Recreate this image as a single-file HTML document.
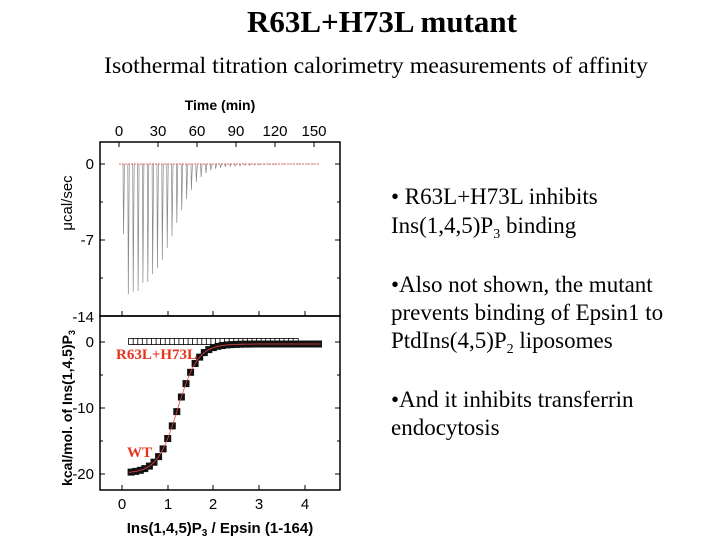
<!DOCTYPE html>
<html><head><meta charset="utf-8"><style>
body{margin:0;background:#fff;width:720px;height:540px;overflow:hidden}
svg{display:block}
</style></head><body>
<svg id="s" width="720" height="540" xmlns="http://www.w3.org/2000/svg" font-family="Liberation Sans, sans-serif">
<text x="382" y="32" text-anchor="middle" font-family="Liberation Serif, serif" font-weight="bold" font-size="31">R63L+H73L mutant</text>
<text x="376" y="73" text-anchor="middle" font-family="Liberation Serif, serif" font-size="23" textLength="544" lengthAdjust="spacingAndGlyphs">Isothermal titration calorimetry measurements of affinity</text>
<g font-family="Liberation Serif, serif" font-size="23">
<text x="391" y="204">• R63L+H73L inhibits</text>
<text x="391" y="233">Ins(1,4,5)P<tspan font-size="14" dy="5">3</tspan><tspan dy="-5"> binding</tspan></text>
<text x="391" y="292">•Also not shown, the mutant</text>
<text x="391" y="320">prevents binding of Epsin1 to</text>
<text x="391" y="348">PtdIns(4,5)P<tspan font-size="14" dy="5">2</tspan><tspan dy="-5"> liposomes</tspan></text>
<text x="391" y="407">•And it inhibits transferrin</text>
<text x="391" y="435">endocytosis</text>
</g>
<text x="220" y="110" text-anchor="middle" font-weight="bold" font-size="14">Time (min)</text>
<g font-size="15" text-anchor="middle">
<text x="119" y="136">0</text><text x="158" y="136">30</text><text x="197" y="136">60</text><text x="236" y="136">90</text><text x="275" y="136">120</text><text x="314" y="136">150</text>
</g>
<g font-size="15" text-anchor="end">
<text x="94" y="169">0</text><text x="94" y="245">-7</text><text x="94" y="322">-14</text>
<text x="94" y="347">0</text><text x="94" y="413">-10</text><text x="94" y="479">-20</text>
</g>
<text transform="translate(72,203) rotate(-90)" text-anchor="middle" font-size="15">μcal/sec</text>
<text transform="translate(72,408) rotate(-90)" text-anchor="middle" font-size="14" font-weight="bold">kcal/mol. of Ins(1,4,5)P<tspan font-size="9" dy="3">3</tspan></text>
<g font-size="15" text-anchor="middle">
<text x="122" y="509">0</text><text x="168" y="509">1</text><text x="213" y="509">2</text><text x="259" y="509">3</text><text x="305" y="509">4</text>
</g>
<text x="220" y="533" text-anchor="middle" font-weight="bold" font-size="15">Ins(1,4,5)P<tspan font-size="10" dy="3">3</tspan><tspan dy="-3"> / Epsin (1-164)</tspan></text>
<rect x="100" y="142" width="240" height="174" fill="none" stroke="#000" stroke-width="1.5"/>
<rect x="100" y="316" width="240" height="174" fill="none" stroke="#000" stroke-width="1.5"/>
<g id="g"></g>
<text x="116" y="359" fill="#e8321e" font-family="Liberation Serif, serif" font-weight="bold" font-size="15">R63L+H73L</text>
<text x="127" y="457" fill="#e8321e" font-family="Liberation Serif, serif" font-weight="bold" font-size="15">WT</text>
</svg>
<script>
var g=document.getElementById('g'),h='';
[119,158,197,236,275,314].forEach(function(x){h+='<line x1="'+x+'" y1="142" x2="'+x+'" y2="147" stroke="#000"/>';});
[122,168,213,259,305].forEach(function(x){h+='<line x1="'+x+'" y1="316" x2="'+x+'" y2="311" stroke="#000"/><line x1="'+x+'" y1="490" x2="'+x+'" y2="485" stroke="#000"/>';});
[164,202,240,278].forEach(function(y,i){var w=i%2?3:5;h+='<line x1="100" y1="'+y+'" x2="'+(100+w)+'" y2="'+y+'" stroke="#000"/><line x1="340" y1="'+y+'" x2="'+(340-w)+'" y2="'+y+'" stroke="#000"/>';});
[342,375,408,441,474].forEach(function(y,i){var w=i%2?3:5;h+='<line x1="100" y1="'+y+'" x2="'+(100+w)+'" y2="'+y+'" stroke="#000"/><line x1="340" y1="'+y+'" x2="'+(340-w)+'" y2="'+y+'" stroke="#000"/>';});
h+='<line x1="119" y1="164" x2="320" y2="164" stroke="#e66" stroke-width="1" stroke-dasharray="2,1"/>';
var d=[432,612,604,602,578,575,552,534,508,473,438,398,360,326,298,275,260,248,240,235,232,230,228,227,226,225,225,224,224,223,223,223,222,222,222,222,222,222,222,222,222];
var p='';
for(var i=0;i<d.length;i++){var x=123+i*4.85;var y=164+(d[i]-221)/3;p+='M'+x.toFixed(1)+' 164 L'+(x+0.5).toFixed(1)+' '+y.toFixed(1)+' L'+(x+1.5).toFixed(1)+' 164 ';}
h+='<path d="'+p+'" fill="none" stroke="#888" stroke-width="0.7"/>';
function wt(r){return -19.9+19.6/(1+Math.exp(-(r-1.22)/0.22));}
var fx=function(r){return 122+r*45.7;},fy=function(v){return 342-v*6.6;};
var fl='';for(var r=0.15;r<=4.35;r+=0.02){fl+=(fl?'L':'M')+fx(r).toFixed(1)+' '+fy(wt(r)).toFixed(1);}
for(var r=0.2;r<=3.86;r+=0.1){h+='<rect x="'+(fx(r)-2.5).toFixed(1)+'" y="338.5" width="5" height="6" fill="#fff" stroke="#000" stroke-width="0.8"/>';}
for(var r=0.2;r<=4.31;r+=0.1){var v=wt(r);h+='<rect x="'+(fx(r)-3.5).toFixed(1)+'" y="'+(fy(v)-3.5).toFixed(1)+'" width="7" height="7" fill="#111"/>';}
h+='<path d="'+fl+'" fill="none" stroke="#e44" stroke-width="0.8"/>';
g.innerHTML=h;
</script>
</body></html>
